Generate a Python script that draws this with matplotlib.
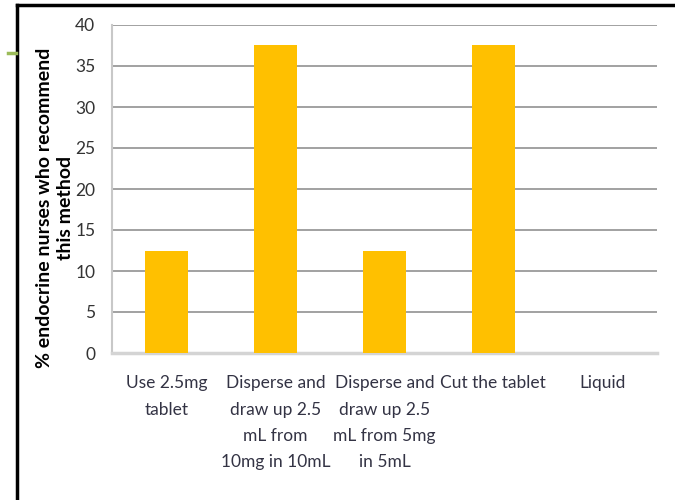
import matplotlib.pyplot as plt
from matplotlib.lines import Line2D

categories = [
    "Use 2.5mg\ntablet",
    "Disperse and\ndraw up 2.5\nmL from\n10mg in 10mL",
    "Disperse and\ndraw up 2.5\nmL from 5mg\nin 5mL",
    "Cut the tablet",
    "Liquid",
]
percent = [12.5, 37.5, 12.5, 37.5, 0]
yticks = [0, 5, 10, 15, 20, 25, 30, 35, 40]

plt.rcParams['font.family'] = ['Lato', 'DejaVu Sans']

fig = plt.figure(figsize=(6.75, 5), dpi=100)
ax = fig.add_axes([0.166, 0.294, 0.807, 0.656])

x = range(len(categories))
ax.bar(x, percent, width=0.4, color='#ffc000', zorder=3)

ax.set_xlim(-0.5, len(categories) - 0.5)
ax.set_ylim(0, 40)
ax.set_yticks(yticks)
ax.set_xticks(list(x))
ax.set_xticklabels(categories, fontsize=12.5, color='#333344', linespacing=1.8, va='top')
ax.tick_params(axis='y', labelsize=12.5, colors='#333333', length=0, pad=12)
ax.tick_params(axis='x', length=0, pad=16)
ax.grid(axis='y', color='#9a9a9a', linewidth=1.3, zorder=0)

for side in ('top', 'right'):
    ax.spines[side].set_visible(False)
ax.spines['left'].set_color('#c8c8c8')
ax.spines['left'].set_linewidth(1.5)
ax.spines['bottom'].set_color('#d4d4d4')
ax.spines['bottom'].set_linewidth(2.5)

ax.set_ylabel("% endocrine nurses who recommend\nthis method", fontsize=14,
              fontweight='bold', color='black', linespacing=1.3)
ax.yaxis.set_label_coords(-0.07, 0.442)

# frame lines on the top and left of the figure, and the small green dash
fig.add_artist(Line2D([17 / 675, 1.0], [1 - 5 / 500, 1 - 5 / 500], color='black', linewidth=2.5))
fig.add_artist(Line2D([17 / 675, 17 / 675], [0, 1 - 5 / 500], color='black', linewidth=2.5))
fig.add_artist(Line2D([8 / 675, 16 / 675], [1 - 53 / 500, 1 - 53 / 500], color='#9bbb59', linewidth=2.5))

fig.savefig('out.png', dpi=100)
